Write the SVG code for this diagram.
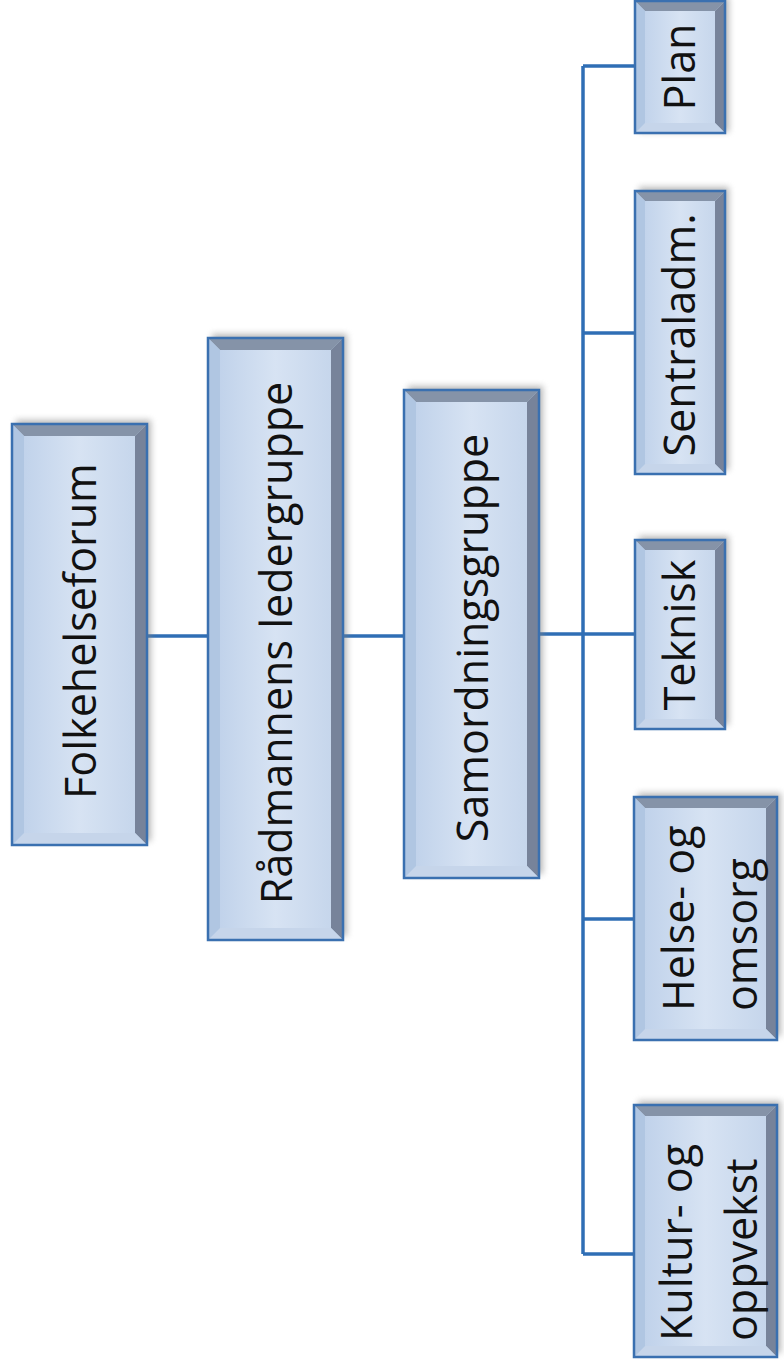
<svg xmlns="http://www.w3.org/2000/svg" width="784" height="1368" viewBox="0 0 784 1368">
<defs>
<linearGradient id="face" x1="0" y1="0" x2="1" y2="0">
<stop offset="0" stop-color="#bccfe9"/>
<stop offset="0.5" stop-color="#d7e3f3"/>
<stop offset="1" stop-color="#c2d3ea"/>
</linearGradient>
<filter id="blur" x="-20%" y="-20%" width="140%" height="140%">
<feGaussianBlur stdDeviation="3"/>
</filter>
</defs>
<style>
.bg{fill:#ffffff}
.sh{fill:#808080;opacity:0.55;filter:url(#blur)}
.face{fill:url(#face)}
.bt{fill:#8593a8}
.br{fill:#77839a}
.bb{fill:#c6d5ea}
.bl{fill:#b0c6e2}
.frame{fill:none;stroke:#3a70b0;stroke-width:2.5}
.conn{fill:none;stroke:#2f6eb5;stroke-width:3.5}
text{font-family:"Open Sans","Noto Sans","DejaVu Sans",sans-serif;font-size:43px;fill:#111111}
</style>
<rect class="bg" x="0" y="0" width="784" height="1368"/>

<g id="connectors">
<path class="conn" d="M147,636 H208"/>
<path class="conn" d="M343,636 H404"/>
<path class="conn" d="M539,634 H583"/>
<path class="conn" d="M583,66 V1254"/>
<path class="conn" d="M583,66 H635"/>
<path class="conn" d="M583,333 H635"/>
<path class="conn" d="M583,634 H635"/>
<path class="conn" d="M583,919 H634"/>
<path class="conn" d="M583,1254 H634"/>
</g>

<g id="folkehelseforum">
<rect class="sh" x="16" y="420" width="135" height="421"/>
<rect class="face" x="12" y="424" width="135" height="421"/>
<polygon class="bt" points="12,424 147,424 135,436 24,436"/>
<polygon class="br" points="147,424 147,845 135,833 135,436"/>
<polygon class="bb" points="12,845 147,845 135,833 24,833"/>
<polygon class="bl" points="12,424 12,845 24,833 24,436"/>
<rect class="frame" x="12" y="424" width="135" height="421"/>
<text transform="translate(96,631) rotate(-90)" text-anchor="middle">Folkehelseforum</text>
</g>

<g id="radmannens-ledergruppe">
<rect class="sh" x="212" y="334" width="135" height="602"/>
<rect class="face" x="208" y="338" width="135" height="602"/>
<polygon class="bt" points="208,338 343,338 331,350 220,350"/>
<polygon class="br" points="343,338 343,940 331,928 331,350"/>
<polygon class="bb" points="208,940 343,940 331,928 220,928"/>
<polygon class="bl" points="208,338 208,940 220,928 220,350"/>
<rect class="frame" x="208" y="338" width="135" height="602"/>
<text transform="translate(292,643) rotate(-90)" text-anchor="middle">Rådmannens ledergruppe</text>
</g>

<g id="samordningsgruppe">
<rect class="sh" x="408" y="386" width="135" height="488"/>
<rect class="face" x="404" y="390" width="135" height="488"/>
<polygon class="bt" points="404,390 539,390 527,402 416,402"/>
<polygon class="br" points="539,390 539,878 527,866 527,402"/>
<polygon class="bb" points="404,878 539,878 527,866 416,866"/>
<polygon class="bl" points="404,390 404,878 416,866 416,402"/>
<rect class="frame" x="404" y="390" width="135" height="488"/>
<text transform="translate(488,638) rotate(-90)" text-anchor="middle">Samordningsgruppe</text>
</g>

<g id="plan">
<rect class="sh" x="639" y="-3" width="90" height="135"/>
<rect class="face" x="635" y="1" width="90" height="132"/>
<polygon class="bt" points="635,1 725,1 715,11 645,11"/>
<polygon class="br" points="725,1 725,133 715,123 715,11"/>
<polygon class="bb" points="635,133 725,133 715,123 645,123"/>
<polygon class="bl" points="635,1 635,133 645,123 645,11"/>
<rect class="frame" x="635" y="1" width="90" height="132"/>
<text transform="translate(695,67) rotate(-90)" text-anchor="middle">Plan</text>
</g>

<g id="sentraladm">
<rect class="sh" x="639" y="187" width="90" height="283"/>
<rect class="face" x="635" y="191" width="90" height="283"/>
<polygon class="bt" points="635,191 725,191 715,201 645,201"/>
<polygon class="br" points="725,191 725,474 715,464 715,201"/>
<polygon class="bb" points="635,474 725,474 715,464 645,464"/>
<polygon class="bl" points="635,191 635,474 645,464 645,201"/>
<rect class="frame" x="635" y="191" width="90" height="283"/>
<text transform="translate(695,335) rotate(-90)" text-anchor="middle">Sentraladm.</text>
</g>

<g id="teknisk">
<rect class="sh" x="639" y="536" width="90" height="189"/>
<rect class="face" x="635" y="540" width="90" height="189"/>
<polygon class="bt" points="635,540 725,540 715,550 645,550"/>
<polygon class="br" points="725,540 725,729 715,719 715,550"/>
<polygon class="bb" points="635,729 725,729 715,719 645,719"/>
<polygon class="bl" points="635,540 635,729 645,719 645,550"/>
<rect class="frame" x="635" y="540" width="90" height="189"/>
<text transform="translate(695,635) rotate(-90)" text-anchor="middle">Teknisk</text>
</g>

<g id="helse-og-omsorg">
<rect class="sh" x="638" y="793" width="143" height="243"/>
<rect class="face" x="634" y="797" width="143" height="243"/>
<polygon class="bt" points="634,797 777,797 766,808 645,808"/>
<polygon class="br" points="777,797 777,1040 766,1029 766,808"/>
<polygon class="bb" points="634,1040 777,1040 766,1029 645,1029"/>
<polygon class="bl" points="634,797 634,1040 645,1029 645,808"/>
<rect class="frame" x="634" y="797" width="143" height="243"/>
<text transform="translate(694,1011) rotate(-90)">Helse- og</text>
<text transform="translate(757,1011) rotate(-90)">omsorg</text>
</g>

<g id="kultur-og-oppvekst">
<rect class="sh" x="638" y="1101" width="143" height="252"/>
<rect class="face" x="634" y="1105" width="143" height="252"/>
<polygon class="bt" points="634,1105 777,1105 766,1116 645,1116"/>
<polygon class="br" points="777,1105 777,1357 766,1346 766,1116"/>
<polygon class="bb" points="634,1357 777,1357 766,1346 645,1346"/>
<polygon class="bl" points="634,1105 634,1357 645,1346 645,1116"/>
<rect class="frame" x="634" y="1105" width="143" height="252"/>
<text transform="translate(692,1341) rotate(-90)">Kultur- og</text>
<text transform="translate(757,1341) rotate(-90)">oppvekst</text>
</g>
</svg>
